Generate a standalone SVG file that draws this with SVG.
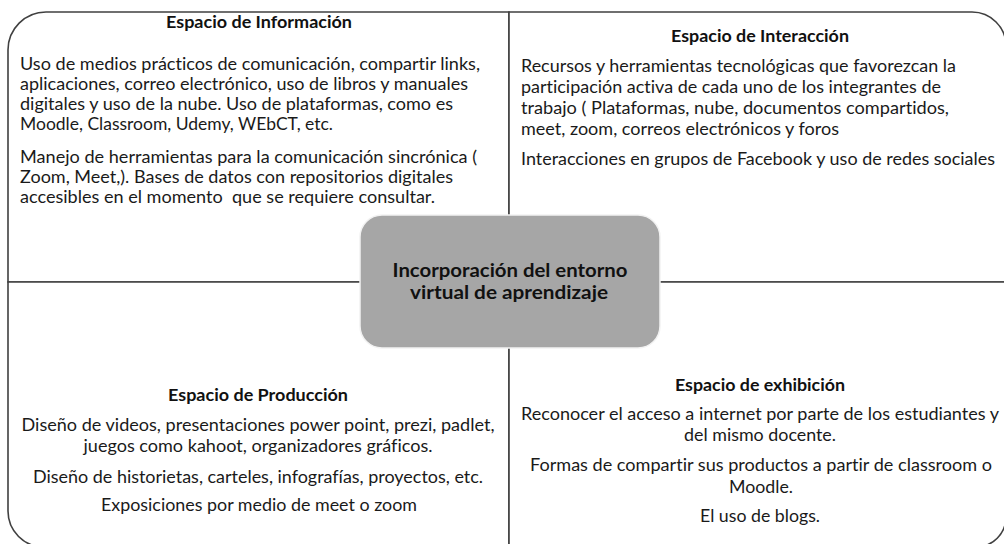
<svg xmlns="http://www.w3.org/2000/svg" width="1004" height="544" viewBox="0 0 1004 544">
<style>
text{font-variant-ligatures:none;font-feature-settings:"liga" 0,"clig" 0}
.q{fill:#fff;stroke:#404040;stroke-width:1.6}
.t{font-family:Lato,"Open Sans","Liberation Sans",sans-serif;font-size:17px;fill:#1a1a1a}
.h{font-family:Lato,"Open Sans","Liberation Sans",sans-serif;font-size:17px;font-weight:bold;fill:#111}
.c{font-family:Lato,"Open Sans","Liberation Sans",sans-serif;font-size:19px;font-weight:bold;fill:#111;text-anchor:middle}
.m{text-anchor:middle}
</style>
<rect width="1004" height="544" fill="#fff"/>
<g id="informacion">
<path class="q" d="M8,282 V50 A38,38 0 0 1 46,12 H509 V282 Z"/>
<text class="h m" x="259" y="28" textLength="186" lengthAdjust="spacingAndGlyphs">Espacio de Información</text>
<text class="t" x="20" y="70" textLength="460" lengthAdjust="spacingAndGlyphs">Uso de medios prácticos de comunicación, compartir links,</text>
<text class="t" x="20" y="90" textLength="448" lengthAdjust="spacingAndGlyphs">aplicaciones, correo electrónico, uso de libros y manuales</text>
<text class="t" x="20" y="110" textLength="433" lengthAdjust="spacingAndGlyphs">digitales y uso de la nube. Uso de plataformas, como es</text>
<text class="t" x="20" y="130" textLength="313" lengthAdjust="spacingAndGlyphs">Moodle, Classroom, Udemy, WEbCT, etc.</text>
<text class="t" x="20" y="163" textLength="457" lengthAdjust="spacingAndGlyphs">Manejo de herramientas para la comunicación sincrónica (</text>
<text class="t" x="20" y="183" textLength="433" lengthAdjust="spacingAndGlyphs">Zoom, Meet,). Bases de datos con repositorios digitales</text>
<text class="t" x="20" y="203" textLength="415" lengthAdjust="spacingAndGlyphs" xml:space="preserve">accesibles en el momento  que se requiere consultar.</text>
</g>
<g id="interaccion">
<path class="q" d="M509,12 H972 A34,34 0 0 1 1006,46 V282 H509 Z"/>
<text class="h m" x="760" y="42" textLength="178" lengthAdjust="spacingAndGlyphs">Espacio de Interacción</text>
<text class="t" x="521" y="72" textLength="435" lengthAdjust="spacingAndGlyphs">Recursos y herramientas tecnológicas que favorezcan la</text>
<text class="t" x="521" y="93" textLength="420" lengthAdjust="spacingAndGlyphs">participación activa de cada uno de los integrantes de</text>
<text class="t" x="521" y="114" textLength="428" lengthAdjust="spacingAndGlyphs">trabajo ( Plataformas, nube, documentos compartidos,</text>
<text class="t" x="521" y="135" textLength="318" lengthAdjust="spacingAndGlyphs">meet, zoom, correos electrónicos y foros</text>
<text class="t" x="521" y="165" textLength="474" lengthAdjust="spacingAndGlyphs">Interacciones en grupos de Facebook y uso de redes sociales</text>
</g>
<g id="produccion">
<path class="q" d="M8,282 V511 A36,36 0 0 0 44,547 H509 V282 Z"/>
<text class="h m" x="258" y="401" textLength="180" lengthAdjust="spacingAndGlyphs">Espacio de Producción</text>
<text class="t m" x="258" y="431" textLength="473" lengthAdjust="spacingAndGlyphs">Diseño de videos, presentaciones power point, prezi, padlet,</text>
<text class="t m" x="258" y="452" textLength="349" lengthAdjust="spacingAndGlyphs">juegos como kahoot, organizadores gráficos.</text>
<text class="t m" x="258" y="483" textLength="450" lengthAdjust="spacingAndGlyphs">Diseño de historietas, carteles, infografías, proyectos, etc.</text>
<text class="t m" x="259" y="511" textLength="316" lengthAdjust="spacingAndGlyphs">Exposiciones por medio de meet o zoom</text>
</g>
<g id="exhibicion">
<path class="q" d="M509,282 H1006 V517 A30,30 0 0 1 976,547 H509 Z"/>
<text class="h m" x="760" y="391" textLength="170" lengthAdjust="spacingAndGlyphs">Espacio de exhibición</text>
<text class="t m" x="760" y="420" textLength="478" lengthAdjust="spacingAndGlyphs">Reconocer el acceso a internet por parte de los estudiantes y</text>
<text class="t m" x="760" y="441" textLength="152" lengthAdjust="spacingAndGlyphs">del mismo docente.</text>
<text class="t m" x="761" y="471" textLength="462" lengthAdjust="spacingAndGlyphs">Formas de compartir sus productos a partir de classroom o</text>
<text class="t m" x="761" y="493" textLength="64" lengthAdjust="spacingAndGlyphs">Moodle.</text>
<text class="t m" x="760" y="522" textLength="120" lengthAdjust="spacingAndGlyphs">El uso de blogs.</text>
</g>
<g id="connectors"></g>
<g id="centro">
<rect x="360" y="215" width="300" height="133" rx="22" ry="22" fill="#a6a6a6" stroke="#f2f2f2" stroke-width="1.5"/>
<text class="c" x="510" y="277" textLength="235" lengthAdjust="spacingAndGlyphs">Incorporación del entorno</text>
<text class="c" x="509" y="299" textLength="198" lengthAdjust="spacingAndGlyphs">virtual de aprendizaje</text>
</g>
</svg>
